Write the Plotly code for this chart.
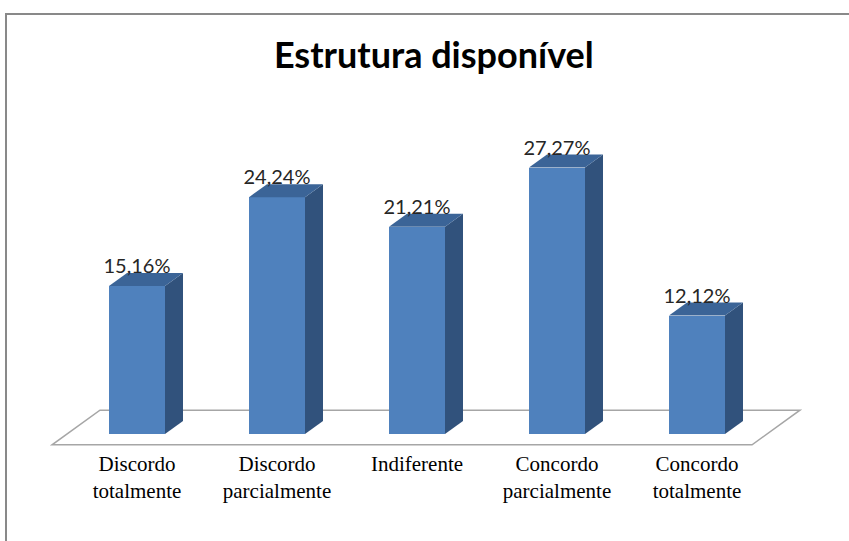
import plotly.graph_objects as go

categories = ["Discordo<br>totalmente", "Discordo<br>parcialmente", "Indiferente",
              "Concordo<br>parcialmente", "Concordo<br>totalmente"]
values = [15.16, 24.24, 21.21, 27.27, 12.12]
value_labels = ["15,16%", "24,24%", "21,21%", "27,27%", "12,12%"]

FRONT = "#4F81BD"
SIDE = "#31527C"
TOP = "#3B6497"

BAR_W = 0.4
DX = 18 / 140      # depth offset in category units
DY = 13 / 9.77     # depth offset in value units

xs = list(range(len(values)))
fig = go.Figure()

# front faces
fig.add_trace(go.Bar(x=xs, y=values, width=BAR_W, marker=dict(color=FRONT, line=dict(width=0)),
                     hoverinfo="skip", showlegend=False))

# side and top faces (derived from data)
for i, v in zip(xs, values):
    r = i + BAR_W / 2
    l = i - BAR_W / 2
    fig.add_trace(go.Scatter(x=[r, r + DX, r + DX, r, r], y=[0, DY, v + DY, v, 0],
                             fill="toself", fillcolor=SIDE, mode="lines",
                             line=dict(width=0, color=SIDE), hoverinfo="skip", showlegend=False))
    fig.add_trace(go.Scatter(x=[l, r, r + DX, l + DX, l], y=[v, v, v + DY, v + DY, v],
                             fill="toself", fillcolor=TOP, mode="lines",
                             line=dict(width=0, color=TOP), hoverinfo="skip", showlegend=False))

# value labels
fig.add_trace(go.Scatter(x=xs, y=[v + DY * 0.6 for v in values], mode="text", text=value_labels,
                         textposition="top center",
                         textfont=dict(family="Lato", size=20, color="#262626"),
                         hoverinfo="skip", showlegend=False))

# floor (parallelogram)
zf, zb = -0.83, 1.83
n = len(values)
fx = [-0.5 + zf * DX, n - 0.5 + zf * DX, n - 0.5 + zb * DX, -0.5 + zb * DX]
fy = [zf * DY, zf * DY, zb * DY, zb * DY]
path = "M " + " L ".join(f"{a},{b}" for a, b in zip(fx, fy)) + " Z"
shapes = [
    dict(type="path", path=path, xref="x", yref="y", layer="below",
         line=dict(color="#A6A6A6", width=1.5), fillcolor="white"),
    dict(type="rect", xref="paper", yref="paper",
         x0=(6 - 40) / 780, x1=(870 - 40) / 780, y0=(446 - 570) / 346, y1=(446 - 14) / 346,
         line=dict(color="#898989", width=2), fillcolor="rgba(0,0,0,0)", layer="below"),
]

fig.update_layout(
    width=849, height=541,
    margin=dict(l=40, r=29, t=100, b=95),
    paper_bgcolor="white", plot_bgcolor="rgba(0,0,0,0)",
    title=dict(text="<b>Estrutura disponível</b>", x=0.511, xanchor="center",
               y=1 - 55 / 541, yanchor="middle",
               font=dict(family="Lato", size=36, color="black")),
    xaxis=dict(range=[(40 - 137) / 140, (820 - 137) / 140], tickmode="array",
               tickvals=xs, ticktext=categories, showgrid=False, zeroline=False,
               showline=False, ticks="", ticklabelstandoff=3,
               tickfont=dict(family="Liberation Serif", size=21, color="black")),
    yaxis=dict(range=[-12 / 9.77, (434 - 100) / 9.77], visible=False, showgrid=False, zeroline=False),
    shapes=shapes,
    bargap=0,
)

fig.write_html("out.html", config={"displayModeBar": False},
               post_script="document.body.style.margin='0';")
